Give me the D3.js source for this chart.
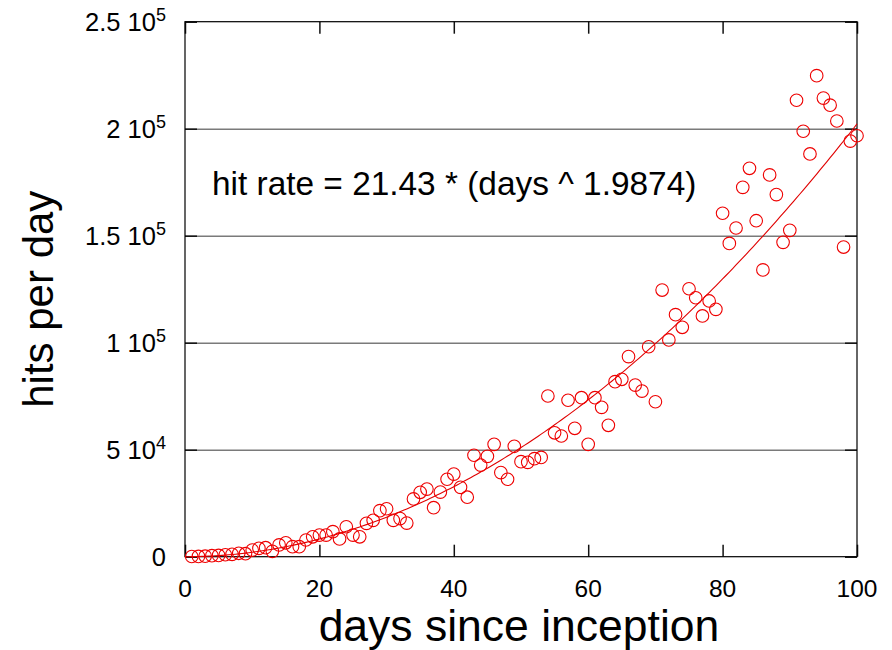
<!DOCTYPE html>
<html><head><meta charset="utf-8">
<script src="https://cdn.jsdelivr.net/npm/d3@7"></script>
<style>body{margin:0;background:#fff} text{font-family:"Liberation Sans",Arial,sans-serif;fill:#000}</style>
</head><body><svg id="c" width="892" height="650"></svg>
<script>
const days = [1,2,3,4,5,6,7,8,9,10,11,12,13,14,15,16,17,18,19,20,21,22,23,24,25,26,27,28,29,30,31,32,33,34,35,36,37,38,39,40,41,42,43,44,45,46,47,48,49,50,51,52,53,54,55,56,57,58,59,60,61,62,63,64,65,66,67,68,69,70,71,72,73,74,75,76,77,78,79,80,81,82,83,84,85,86,87,88,89,90,91,92,93,94,95,96,97,98,99,100];
const hits = [100,150,250,500,600,900,1100,1600,1400,3100,
  3900,4200,2500,5500,6500,4700,4700,7800,9300,10100,
  10100,11700,8300,14000,10100,9300,15600,17000,21500,22400,
  17000,17800,15700,27000,30100,31600,22900,30200,36200,38600,
  32400,27800,47400,42800,46900,52500,39300,36200,51600,44400,
  44100,45800,46400,75100,57900,56400,73100,60000,74300,52500,
  74300,69800,61400,81800,82900,93500,80200,77400,98100,72400,
  124600,101300,113100,107200,125200,121000,112500,119500,115600,160500,
  146400,153600,172600,181500,157000,134000,178400,169200,146900,152500,
  213300,198800,188200,224800,214300,211000,203600,144700,194200,196700];
const xTicks = [0,20,40,60,80,100];
const yTicks = [0,50000,100000,150000,200000,250000];
const yTickMantissa = ["0","5 10","1 10","1.5 10","2 10","2.5 10"];
const yTickExponent = ["","4","5","5","5","5"];
const fitCoef = 21.43, fitExp = 1.9874;
const fitLabel = "hit rate = 21.43 * (days ^ 1.9874)";
const xTitle = "days since inception", yTitle = "hits per day";

const m = {l:185, r:857, t:21.7, b:556.7};
const svg = d3.select("#c");
const x = d3.scaleLinear().domain([0,100]).range([m.l, m.r]);
const y = d3.scaleLinear().domain([0,250000]).range([m.b, m.t]);
const W = m.r - m.l;

// gridlines
const grid = svg.append("g").attr("transform",`translate(${m.l},0)`)
  .call(d3.axisLeft(y).tickValues(yTicks.slice(1,-1)).tickSize(-W).tickFormat(""));
grid.select(".domain").remove();
grid.selectAll("line").attr("stroke","#7a7a7a").attr("stroke-width",1.6);

// inward ticks
function tk(axis, tr){
  const g = svg.append("g").attr("transform",tr).call(axis);
  g.select(".domain").remove();
  g.selectAll("text").remove();
  g.selectAll("line").attr("stroke","#111").attr("stroke-width",1.5);
}
tk(d3.axisLeft(y).tickValues(yTicks).tickSize(-12), `translate(${m.l},0)`);
tk(d3.axisRight(y).tickValues(yTicks).tickSize(-12), `translate(${m.r},0)`);
tk(d3.axisBottom(x).tickValues(xTicks).tickSize(-12), `translate(0,${m.b})`);
tk(d3.axisTop(x).tickValues(xTicks).tickSize(-12), `translate(0,${m.t})`);

// frame
svg.append("rect").attr("x",m.l).attr("y",m.t).attr("width",W).attr("height",m.b-m.t)
  .attr("fill","none").attr("stroke","#000").attr("stroke-width",1.2);

// y tick labels
yTicks.forEach((v,i)=>{
  const t = svg.append("text").attr("x",166).attr("y",y(v)+9)
    .attr("text-anchor","end").attr("font-size",25.5);
  t.append("tspan").text(yTickMantissa[i]);
  if (yTickExponent[i]) t.append("tspan").attr("font-size",18).attr("dy",-10).text(yTickExponent[i]);
});
// x tick labels
svg.append("g").selectAll("text").data(xTicks).join("text")
  .attr("x",d=>x(d)).attr("y",597).attr("text-anchor","middle").attr("font-size",24.5).text(d=>d);

// titles
svg.append("text").attr("x",(m.l+m.r)/2 - 2).attr("y",641).attr("text-anchor","middle")
  .attr("font-size",44.5).text(xTitle);
svg.append("text").attr("transform",`translate(53,${(m.t+m.b)/2+10}) rotate(-90)`)
  .attr("text-anchor","middle").attr("font-size",42).text(yTitle);

// annotation
svg.append("text").attr("x",212).attr("y",195).attr("font-size",33.4).text(fitLabel);

// fit line
const fitX = d3.range(0, 100.01, 0.5);
svg.append("path").datum(fitX)
  .attr("d", d3.line().x(d=>x(d)).y(d=>y(fitCoef*Math.pow(d,fitExp))))
  .attr("fill","none").attr("stroke","#e00000").attr("stroke-width",1.1);

// points
svg.append("g").selectAll("circle").data(days).join("circle")
  .attr("cx",(d)=>x(d)).attr("cy",(d,i)=>y(hits[i])).attr("r",6.3)
  .attr("fill","none").attr("stroke","#ee0000").attr("stroke-width",1.1);
</script></body></html>
